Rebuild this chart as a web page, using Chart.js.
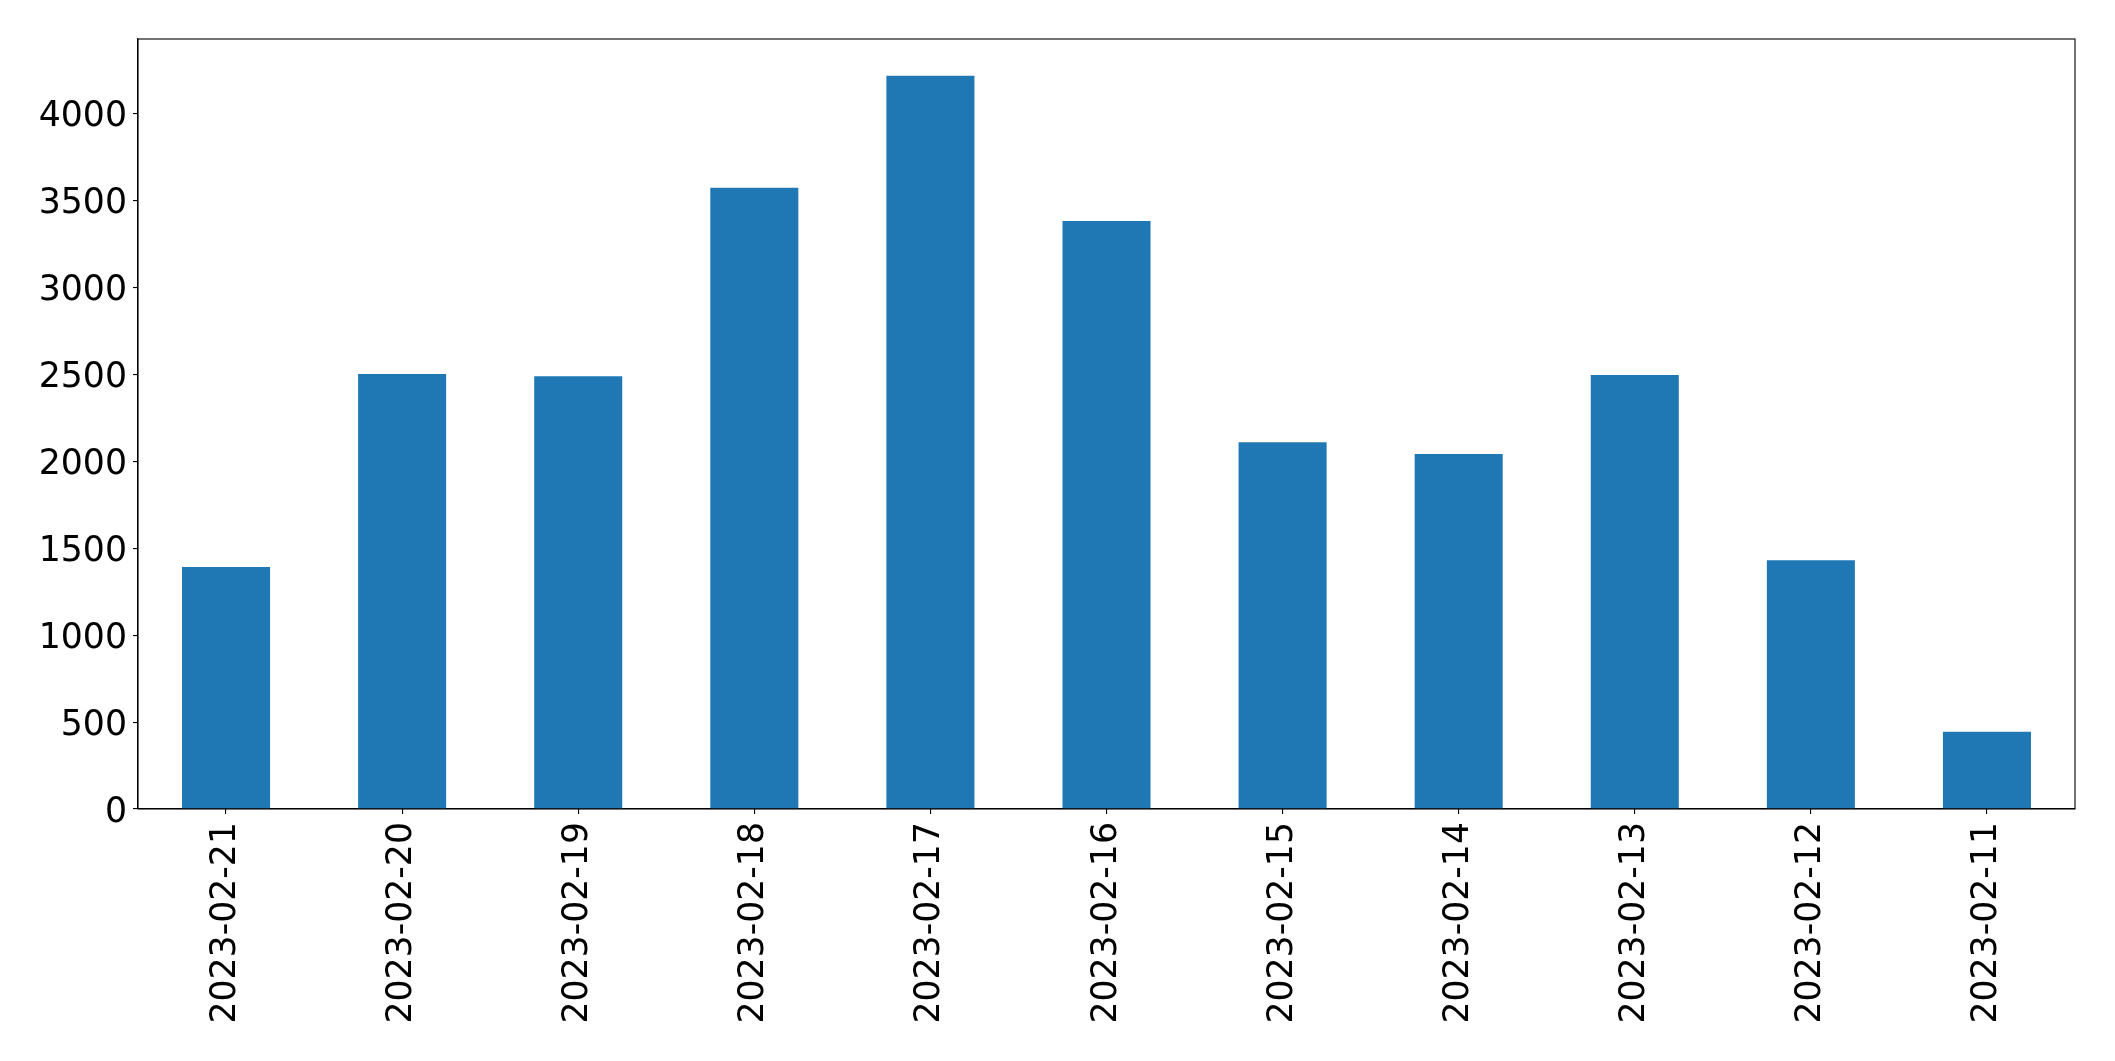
<!DOCTYPE html>
<html lang="en">
<head>
    <meta charset="UTF-8">
    <title>Daily counts</title>
    <script src="https://cdn.jsdelivr.net/npm/chart.js"></script>
    <style>
        html, body { margin: 0; padding: 0; background: #fff; }
        #wrap { width: 2115px; height: 1061px; position: relative; }
    </style>
</head>
<body>
    <div id="wrap"><canvas id="barChart"></canvas></div>

    <script>
        const dates = ['2023-02-21', '2023-02-20', '2023-02-19', '2023-02-18', '2023-02-17', '2023-02-16',
                       '2023-02-15', '2023-02-14', '2023-02-13', '2023-02-12', '2023-02-11'];
        const counts = [1392, 2502, 2489, 3572, 4216, 3381, 2109, 2041, 2496, 1431, 444];
        const yTicks = [0, 500, 1000, 1500, 2000, 2500, 3000, 3500, 4000];
        const yMax = 4428;

        // box around the plot area, like matplotlib spines
        const frame = {
            id: 'frame',
            afterDatasetsDraw(chart) {
                const a = chart.chartArea, ctx = chart.ctx;
                ctx.save();
                ctx.strokeStyle = '#000';
                ctx.lineWidth = 1.1;
                ctx.strokeRect(a.left, a.top, a.right - a.left, a.bottom - a.top);
                ctx.restore();
            }
        };

        const tickFont = { family: 'DejaVu Sans', size: 34.7 };

        new Chart(document.getElementById('barChart'), {
            type: 'bar',
            data: {
                labels: dates,
                datasets: [{
                    data: counts,
                    backgroundColor: '#1f77b4',
                    borderWidth: 0,
                    barPercentage: 0.5,
                    categoryPercentage: 1.0
                }]
            },
            options: {
                responsive: true,
                maintainAspectRatio: false,
                animation: false,
                layout: { padding: { top: 39, right: 40, left: 0, bottom: 0 } },
                plugins: { legend: { display: false }, tooltip: { enabled: false } },
                scales: {
                    x: {
                        grid: { offset: false, drawOnChartArea: false, color: '#000', tickLength: 5, lineWidth: 1.1 },
                        border: { display: true, color: '#000', width: 1.1 },
                        ticks: { color: '#000', font: tickFont, minRotation: 90, maxRotation: 90, autoSkip: false, padding: 8 },
                        afterFit(scale) { scale.height = 252; }
                    },
                    y: {
                        min: 0,
                        max: yMax,
                        grid: { drawOnChartArea: false, color: '#000', tickLength: 5, lineWidth: 1.1 },
                        border: { display: true, color: '#000', width: 1.1 },
                        ticks: { color: '#000', font: tickFont, padding: 6, labelOffset: 4, callback: v => String(v) },
                        afterBuildTicks(scale) { scale.ticks = yTicks.map(v => ({ value: v })); },
                        afterFit(scale) { scale.width = 138; }
                    }
                }
            },
            plugins: [frame]
        });
    </script>
</body>
</html>
